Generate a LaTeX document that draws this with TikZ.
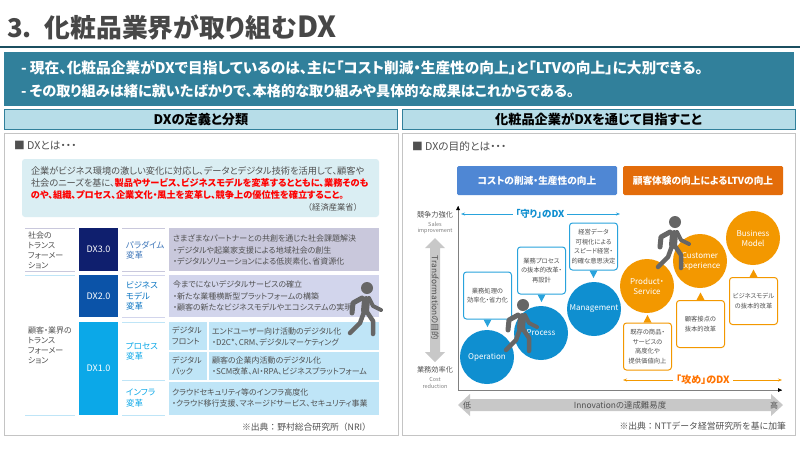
\documentclass[tikz,border=0pt]{standalone}
\usepackage{fontspec}
\setmainfont[RawFeature=+palt]{Noto Sans CJK JP}
\newfontfamily\plainjp{Noto Sans CJK JP}
\usepackage{tikz}
\usetikzlibrary{arrows.meta, calc}

\definecolor{tealbar}{HTML}{31809B}
\definecolor{tealdark}{HTML}{1B4F60}
\definecolor{headfill}{HTML}{B7DDE8}
\definecolor{panelline}{HTML}{C4C4C4}
\definecolor{textgray}{HTML}{505050}
\definecolor{noteblue}{HTML}{DAEEF3}
\definecolor{dxthree}{HTML}{0F1F6E}
\definecolor{dxtwo}{HTML}{0B53A8}
\definecolor{dxone}{HTML}{0BA8E8}
\definecolor{rowthree}{HTML}{C9C8DC}
\definecolor{rowtwo}{HTML}{D2D5EC}
\definecolor{rowone}{HTML}{BFE5F7}
\definecolor{defblue}{HTML}{0F8FD0}
\definecolor{defline}{HTML}{29A3DC}
\definecolor{atkorange}{HTML}{F39800}
\definecolor{goalblue}{HTML}{4F87D4}
\definecolor{goalorange}{HTML}{E36C0A}
\definecolor{walkgray}{HTML}{666666}
\definecolor{bargray}{HTML}{C8C8C8}

\begin{document}
\begin{tikzpicture}[
  x=1pt, y=-1pt,
  every node/.style={inner sep=0pt, outer sep=0pt},
  headbar/.style={draw=tealbar, line width=1pt, fill=headfill, minimum width=393pt,
                  minimum height=20pt, font=\fontsize{13.2}{14}\selectfont\bfseries},
  panel/.style={draw=panelline, line width=1pt, fill=white, minimum height=302pt},
  subhead/.style={anchor=west, text=textgray, font=\fontsize{10.7}{12}\selectfont},
  cell/.style={anchor=west, align=left, text=textgray, font=\fontsize{8}{11}\selectfont},
  rowlabel/.style={anchor=west, align=left, text=textgray, font=\fontsize{8}{10}\selectfont},
  kindlabel/.style={anchor=west, align=left, font=\fontsize{8.5}{10.2}\selectfont},
  dxbox/.style={minimum width=39pt, text=white, font=\fontsize{9}{11}\selectfont},
  goalbox/.style={minimum width=160pt, minimum height=29pt, rounded corners=1.5pt, text=white,
                  font=\fontsize{9.7}{12}\selectfont\bfseries},
  defcircle/.style={circle, fill=defblue, minimum size=54pt, text=white, align=center,
                    font=\fontsize{8}{10}\selectfont},
  atkcircle/.style={circle, fill=atkorange, minimum size=54pt, text=white, align=center,
                    font=\fontsize{8}{10}\selectfont},
  defnote/.style={draw=defline, line width=1pt, fill=white, rounded corners=3pt, minimum width=48pt,
                  minimum height=47pt, align=center, text=textgray, font=\fontsize{6.3}{9.4}\selectfont},
  atknote/.style={defnote, draw=atkorange},
  sidelabel/.style={text=textgray, font=\fontsize{7.2}{8}\selectfont},
  sidesmall/.style={text=gray, align=center, font=\fontsize{5.5}{6.5}\selectfont},
  source/.style={anchor=east, text=textgray, font=\plainjp\fontsize{8.8}{10}\selectfont},
  dxarrow/.style={{Stealth[length=4pt]}-, line width=1pt},
  walker/.pic={
    \fill[walkgray] (0,0) circle (6pt);
    \draw[walkgray, line width=5pt, line cap=round, line join=round] (-5,10) -- (-14,15) -- (-15,25);
    \draw[walkgray, line width=4pt, line cap=round, line join=round] (2,10) -- (6,18) -- (14,22);
    \draw[walkgray, line width=8pt, line cap=round] (-1,12) -- (-2,23);
    \draw[walkgray, line width=4.5pt, line cap=round, line join=round] (-3,24) -- (-7,35) -- (-17,45);
    \draw[walkgray, line width=4.5pt, line cap=round, line join=round] (0,24) -- (6,33) -- (6,46);
  }
]
\useasboundingbox (0,0) rectangle (800,451);

%% Title and banner
\node[anchor=west, text=black!72, font=\fontsize{25.8}{28}\selectfont\bfseries] at (7,27) (title) {3.\hspace{13pt}化粧品業界が取り組む{\fontsize{29}{28}\selectfont DX}};
\draw[tealdark, line width=2pt] (0,47) -- (800,47);
\fill[tealbar] (4,52) rectangle (794,106);
\node[anchor=west, text=white, font=\fontsize{14.7}{15}\selectfont\bfseries] at (21,68) (line1) {- 現在、化粧品企業がDXで目指しているのは、主に「コスト削減・生産性の向上」と「LTVの向上」に大別できる。};
\node[anchor=west, text=white, font=\fontsize{14.2}{15}\selectfont\bfseries] at (21,91) (line2) {- その取り組みは緒に就いたばかりで、本格的な取り組みや具体的な成果はこれからである。};

%% Two section heads and panels
\node[headbar] at (201,119.5) (headleft) {DXの定義と分類};
\node[headbar] at (598.5,119.5) (headright) {化粧品企業がDXを通じて目指すこと};
\node[panel, minimum width=394pt] at (201,284) (panelleft) {};
\node[panel, minimum width=393pt] at (598.5,284) (panelright) {};

%% Left panel, definition
\node[subhead] at (14,146) (dxwhat) {■ DXとは・・・};
\node[fill=noteblue, rounded corners=3pt, minimum width=357pt, minimum height=58pt] at (200.5,188) (notebox) {};
\node[anchor=west, align=left, text=textgray, font=\fontsize{9.2}{11.7}\selectfont] at (31,183) (notetext)
  {企業がビジネス環境の激しい変化に対応し、データとデジタル技術を活用して、顧客や\\
   社会のニーズを基に、\textcolor{red}{\bfseries 製品やサービス、ビジネスモデルを変革するとともに、業務そのも}\\
   \textcolor{red}{\bfseries のや、組織、プロセス、企業文化・風土を変革し、競争上の優位性を確立すること。}};
\node[anchor=east, text=textgray, font=\plainjp\fontsize{8.3}{11}\selectfont] at (362,207) (notesource) {（経済産業省）};

%% Left panel, table rows
\draw[rowthree, line width=1pt] (25,228) -- (75,228) (25,271) -- (75,271) (122,228) -- (165,228) (122,271) -- (165,271);
\draw[rowone, line width=1pt] (25,275) -- (75,275) (25,415) -- (75,415) (122,322) -- (165,322) (122,380) -- (165,380) (122,415) -- (165,415);
\draw[rowtwo, line width=1pt] (122,275) -- (165,275) (122,317) -- (165,317);
\node[rowlabel] at (28,250.5) (societylabel) {社会の\\トランス\\フォーメー\\ション};
\node[rowlabel] at (28,345) (customerlabel) {顧客・業界の\\トランス\\フォーメー\\ション};

\node[dxbox, fill=dxthree, minimum height=43pt] at (98.5,249.5) (dx3) {DX3.0};
\node[dxbox, fill=dxtwo, minimum height=42pt] at (98.5,296) (dx2) {DX2.0};
\node[dxbox, fill=dxone, minimum height=93pt] at (98.5,368.5) (dx1) {DX1.0};

\node[kindlabel, text=dxtwo!80!white] at (126,250) (paradigm) {パラダイム\\変革};
\node[kindlabel, text=dxtwo!60!dxone] at (126,296) (bizmodel) {ビジネス\\モデル\\変革};
\node[kindlabel, text=dxone] at (126,351) (process) {プロセス\\変革};
\node[kindlabel, text=dxone] at (126,398) (infra) {インフラ\\変革};

\node[fill=rowthree, minimum width=210pt, minimum height=43pt] at (274,249.5) (rowparadigm) {};
\node[fill=rowtwo, minimum width=210pt, minimum height=42pt] at (274,296) (rowmodel) {};
\node[fill=rowone, minimum width=38pt, minimum height=28pt] at (188,336) (cellfront) {};
\node[fill=rowone, minimum width=170pt, minimum height=28pt] at (294,336) (rowfront) {};
\node[fill=rowone, minimum width=38pt, minimum height=28pt] at (188,366) (cellback) {};
\node[fill=rowone, minimum width=170pt, minimum height=28pt] at (294,366) (rowback) {};
\node[fill=rowone, minimum width=210pt, minimum height=33pt] at (274,398.5) (rowinfra) {};

\node[cell] at (173,250) (textparadigm) {さまざまなパートナーとの共創を通じた社会課題解決\\[1pt]・デジタルや起業家支援による地域社会の創生\\・デジタルソリューションによる低炭素化、省資源化};
\node[cell] at (173,296) (textmodel) {今までにないデジタルサービスの確立\\[1pt]・新たな業種横断型プラットフォームの構築\\・顧客の新たなビジネスモデルやエコシステムの実現};
\node[cell] at (172,336) (textfront) {デジタル\\フロント};
\node[cell] at (172,366) (textback) {デジタル\\バック};
\node[cell] at (212,336.5) (textfrontrow) {エンドユーザー向け活動のデジタル化\\・D2C*、CRM、デジタルマーケティング};
\node[cell] at (212,366) (textbackrow) {顧客の企業内活動のデジタル化\\・SCM改革、AI・RPA、ビジネスプラットフォーム};
\node[cell] at (172,398) (textinfrarow) {クラウドセキュリティ等のインフラ高度化\\・クラウド移行支援、マネージドサービス、セキュリティ事業};

\pic at (367,288) {walker};
\node[source] at (371,427) (sourceleft) {※出典：野村総合研究所（NRI）};

%% Right panel, goals
\node[subhead] at (412,146) (dxgoal) {■ DXの目的とは・・・};
\node[goalbox, fill=goalblue] at (537,180.5) (goalcost) {コストの削減・生産性の向上};
\node[goalbox, fill=goalorange] at (703,180.5) (goalltv) {顧客体験の向上によるLTVの向上};

%% Axes and scale arrows
\coordinate (origin) at (458,390);
\coordinate (ytop) at (458,206);
\coordinate (xend) at (782,390);
\draw[gray, line width=1pt] (origin) -- (ytop);
\draw[gray, line width=1pt] (origin) -- (xend);
\fill[black] (458,206) -- (456,210) -- (460,210) -- cycle;
\fill[black] (782,390) -- (778,388) -- (778,392) -- cycle;

\node[sidelabel] at (435,215) (salesjp) {競争力強化};
\node[sidesmall] at (435,228) (salesen) {Sales\\improvement};
\node[sidelabel] at (435,370) (costjp) {業務効率化};
\node[sidesmall] at (435,383) (costen) {Cost\\reduction};
\fill[bargray] (435,238) -- (445,248) -- (440,248) -- (440,352) -- (445,352) -- (435,362) -- (425,352) -- (430,352) -- (430,248) -- (425,248) -- cycle;
\node[rotate=-90, text=textgray, font=\fontsize{8.3}{9}\selectfont] at (435,298) (translabel) {Transformationの目的};

\fill[bargray] (458,405) -- (470,394) -- (470,399) -- (771,399) -- (771,394) -- (783,405) -- (771,416) -- (771,411) -- (470,411) -- (470,416) -- cycle;
\node[text=textgray, font=\fontsize{8}{9}\selectfont] at (467,405) (lowlabel) {低};
\node[text=textgray, font=\fontsize{8}{9}\selectfont] at (774,405) (highlabel) {高};
\node[text=textgray, font=\fontsize{8.4}{9}\selectfont] at (620,405) (innovlabel) {Innovationの達成難易度};

%% Defence and attack spans
\node[text=defblue, font=\fontsize{9.5}{11}\selectfont\bfseries, inner xsep=3pt] at (540,214) (defspan) {「守り」のDX};
\coordinate (defleft) at (461,214);
\coordinate (defright) at (620,214);
\draw[dxarrow, defline] (defleft) -- (defspan);
\draw[dxarrow, defline] (defright) -- (defspan);
\node[text=orange!90!red, font=\fontsize{10}{12}\selectfont\bfseries, inner xsep=3pt] at (703,380) (atkspan) {「攻め」のDX};
\coordinate (atkleft) at (623,380);
\coordinate (atkright) at (782,380);
\draw[dxarrow, atkorange] (atkleft) -- (atkspan);
\draw[dxarrow, atkorange] (atkright) -- (atkspan);

%% Blue circles with notes
\node[defcircle] at (541,333) (circleprocess) {Process};
\node[defcircle] at (487,357) (circleoperation) {Operation};
\node[defcircle] at (594,309) (circlemanage) {Management};
\node[defnote] at (487.5,295.5) (noteoperation) {業務処理の\\効率化・省力化};
\node[defnote] at (541.5,270.5) (noteprocess) {業務プロセス\\の抜本的改革・\\再設計};
\node[defnote] at (593.5,246.5) (notemanage) {経営データ\\可視化による\\スピード経営・\\的確な意思決定};
\fill[defline] ($(noteoperation.south)+(-4,0.5)$) -- ($(noteoperation.south)+(4,0.5)$) -- ($(noteoperation.south)+(0,8)$) -- cycle;
\fill[defline] ($(noteprocess.south)+(-4,0.5)$) -- ($(noteprocess.south)+(4,0.5)$) -- ($(noteprocess.south)+(0,8)$) -- cycle;
\fill[defline] ($(notemanage.south)+(-4,0.5)$) -- ($(notemanage.south)+(4,0.5)$) -- ($(notemanage.south)+(0,8)$) -- cycle;
\pic at (523,305) {walker};

%% Orange circles with notes
\node[atkcircle] at (647,286) (circleproduct) {Product・\\Service};
\node[atkcircle] at (700,261) (circlecustomer) {Customer\\Experience};
\node[atkcircle] at (753,238) (circlebusiness) {Business\\Model};
\node[atknote] at (647.5,346.5) (noteproduct) {既存の商品・\\サービスの\\高度化や\\提供価値向上};
\node[atknote] at (700.5,324) (notecustomer) {顧客接点の\\抜本的改革};
\node[atknote] at (753.5,301) (notebusiness) {ビジネスモデル\\の抜本的改革};
\fill[atkorange] ($(noteproduct.north)+(-4,-0.5)$) -- ($(noteproduct.north)+(4,-0.5)$) -- ($(noteproduct.north)+(0,-8)$) -- cycle;
\fill[atkorange] ($(notecustomer.north)+(-4,-0.5)$) -- ($(notecustomer.north)+(4,-0.5)$) -- ($(notecustomer.north)+(0,-8)$) -- cycle;
\fill[atkorange] ($(notebusiness.north)+(-4,-0.5)$) -- ($(notebusiness.north)+(4,-0.5)$) -- ($(notebusiness.north)+(0,-8)$) -- cycle;
\pic at (675,222) {walker};

\node[source] at (786,426) (sourceright) {※出典：NTTデータ経営研究所を基に加筆};
\end{tikzpicture}
\end{document}
